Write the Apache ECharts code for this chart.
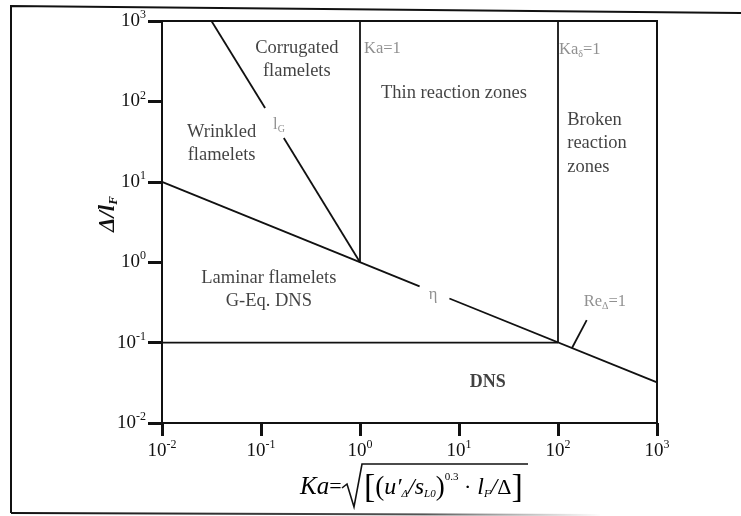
<!DOCTYPE html>
<html>
<head>
<meta charset="utf-8">
<title>Combustion regime diagram</title>
<script src="https://cdn.jsdelivr.net/npm/echarts@6/dist/echarts.min.js"></script>
<style>
  html, body { margin: 0; padding: 0; background: #fff; }
  #chart { width: 741px; height: 516px; }
</style>
</head>
<body>
<div id="chart"></div>
<script>
// Axis range (log scale, both axes span 10^-2 .. 10^3)
const kaRange = [0.01, 1000];
const ratioRange = [0.01, 1000];

// Kolmogorov boundary (eta), split to leave room for its label
const etaUpper = [[0.01, 10], [4, 0.5]];
const etaLower = [[8, 0.354], [1000, 0.032]];

// Gibson length boundary (l_G), split around its label
const lgUpper = [[0.0316, 1000], [0.11, 83]];
const lgLower = [[0.17, 35], [1, 1]];

// Vertical boundaries Ka = 1 and Ka_delta = 1
const kaOne = [[1, 1], [1, 1000]];
const kaDeltaOne = [[100, 0.1], [100, 1000]];

// Lower DNS boundary
const dnsLine = [[0.01, 0.1], [100, 0.1]];

// Leader from the Re_Delta = 1 label to the eta line
const reLeader = [[195, 0.19], [138, 0.085]];

// Region names and boundary tags: [Ka, Delta/l_F, text]
const regionNames = [
  [0.23, 330, 'Corrugated\nflamelets'],
  [8.9, 126, 'Thin reaction zones'],
  [0.040, 30, 'Wrinkled\nflamelets'],
  [0.12, 0.46, 'Laminar flamelets\nG-Eq. DNS']
];
const brokenZone = [[124, 30, 'Broken\nreaction\nzones']];
const dnsName = [[19.5, 0.032, 'DNS']];
const boundaryTags = [
  [1, 458, '{t|Ka=1}', 'right', 4],
  [100, 436, '{t|Ka}{ts|δ}{t|=1}', 'right', 1],
  [0.152, 51, '{t|l}{ts|G}', 'inside', 0],
  [5.46, 0.39, '{t|η}', 'inside', 0],
  [298, 0.32, '{t|Re}{ts|Δ}{t|=1}', 'inside', 0]
];

const serif = '"Liberation Serif", "Times New Roman", serif';
const ink = '#111111';
const tagGrey = '#747474';

function powLabel(v) {
  const e = Math.round(Math.log10(v));
  return '{b|10}{s|' + e + '}';
}
const powRich = {
  b: { fontFamily: serif, fontSize: 19, color: ink },
  s: { fontFamily: serif, fontSize: 12, color: ink, padding: [0, 0, 12, 0] }
};

function boundary(data) {
  return {
    type: 'line',
    data: data,
    symbol: 'none',
    silent: true,
    lineStyle: { color: ink, width: 1.8 },
    z: 3
  };
}

const chart = echarts.init(document.getElementById('chart'), null, { renderer: 'canvas' });

const option = {
  backgroundColor: '#ffffff',
  animation: false,
  grid: {
    left: 162, right: 84, top: 21, bottom: 93,
    show: true, borderColor: ink, borderWidth: 2,
    containLabel: false, outerBoundsMode: 'none'
  },
  xAxis: {
    type: 'log', logBase: 10, min: kaRange[0], max: kaRange[1], splitNumber: 5,
    axisLine: { show: true, lineStyle: { color: ink, width: 2 } },
    axisTick: { show: true, length: 13, lineStyle: { color: ink, width: 3 } },
    axisLabel: { margin: 16, formatter: powLabel, rich: powRich },
    splitLine: { show: false },
    minorTick: { show: false }
  },
  yAxis: {
    type: 'log', logBase: 10, min: ratioRange[0], max: ratioRange[1], splitNumber: 5,
    axisLine: { show: true, lineStyle: { color: ink, width: 2 } },
    axisTick: { show: true, length: 14, lineStyle: { color: ink, width: 3 } },
    axisLabel: { margin: 16, formatter: powLabel, rich: powRich },
    splitLine: { show: false },
    name: '{a|Δ/}{a|l}{f|F}',
    nameLocation: 'middle',
    nameRotate: 90,
    nameGap: 42,
    nameMoveOverlap: false,
    nameTextStyle: {
      padding: [0, 0, 0, 16],
      rich: {
        a: { fontFamily: serif, fontSize: 23, fontWeight: 'bold', fontStyle: 'italic', color: ink },
        f: { fontFamily: serif, fontSize: 13, fontWeight: 'bold', fontStyle: 'italic', color: ink, padding: [10, 0, 0, 0] }
      }
    }
  },
  series: [
    boundary(etaUpper),
    boundary(etaLower),
    boundary(lgUpper),
    boundary(lgLower),
    boundary(kaOne),
    boundary(kaDeltaOne),
    boundary(dnsLine),
    boundary(reLeader),
    {
      type: 'scatter', symbolSize: 0, silent: true, z: 5,
      data: regionNames.map(d => ({ value: [d[0], d[1]], name: d[2] })),
      label: {
        show: true, position: 'inside', formatter: p => p.name,
        fontFamily: serif, fontSize: 18.5, color: ink, lineHeight: 23, align: 'center'
      }
    },
    {
      type: 'scatter', symbolSize: 0, silent: true, z: 5,
      data: brokenZone.map(d => ({ value: [d[0], d[1]], name: d[2] })),
      label: {
        show: true, position: 'right', distance: 0, formatter: p => p.name,
        fontFamily: serif, fontSize: 18.5, color: ink, lineHeight: 23.5, align: 'left'
      }
    },
    {
      type: 'scatter', symbolSize: 0, silent: true, z: 5,
      data: dnsName.map(d => ({ value: [d[0], d[1]], name: d[2] })),
      label: {
        show: true, position: 'inside', formatter: p => p.name,
        fontFamily: serif, fontSize: 18, fontWeight: 'bold', color: ink
      }
    },
    {
      type: 'scatter', symbolSize: 0, silent: true, z: 5,
      data: boundaryTags.map(d => ({
        value: [d[0], d[1]], name: d[2],
        label: { position: d[3], distance: d[4] }
      })),
      label: {
        show: true, formatter: p => p.name,
        rich: {
          t: { fontFamily: serif, fontSize: 16.5, color: tagGrey },
          ts: { fontFamily: serif, fontSize: 10, color: tagGrey, padding: [9, 0, 0, 0] }
        }
      }
    }
  ],
  graphic: [
    // outer border of the figure
    { type: 'polyline', silent: true, shape: { points: [[741, 13], [11, 6], [11, 513]] },
      style: { stroke: '#111', lineWidth: 2, fill: null } },
    { type: 'line', silent: true, shape: { x1: 11, y1: 513, x2: 600, y2: 515 },
      style: {
        lineWidth: 2,
        stroke: new echarts.graphic.LinearGradient(0, 0, 1, 0, [
          { offset: 0, color: '#111' }, { offset: 0.7, color: '#555' }, { offset: 1, color: 'rgba(120,120,120,0)' }
        ])
      } },
    // x-axis title: Ka = sqrt[(u'_Δ/s_L0)^0.3 · l_F/Δ]
    { type: 'text', silent: true, x: 300, y: 487,
      style: {
        text: '{i|Ka}{n|=}', verticalAlign: 'middle', align: 'left',
        rich: {
          i: { fontFamily: serif, fontSize: 25, fontStyle: 'italic', color: ink },
          n: { fontFamily: serif, fontSize: 22, color: ink }
        }
      } },
    { type: 'polyline', silent: true,
      shape: { points: [[342, 488], [347, 484], [354, 507], [362, 464], [528, 464]] },
      style: { stroke: ink, lineWidth: 1.6, fill: null } },
    { type: 'text', silent: true, x: 364, y: 488,
      style: {
        text: '{br|[}{p|(}{i|u′}{sb|Δ}{i|/}{i|s}{sb|L0}{p|)}{sp|0.3}{n| ·}{i| l}{sb|F}{i|/}{n|Δ}{br|]}',
        verticalAlign: 'middle', align: 'left',
        rich: {
          br: { fontFamily: serif, fontSize: 34, color: ink },
          p: { fontFamily: serif, fontSize: 27, color: ink },
          i: { fontFamily: serif, fontSize: 24, fontStyle: 'italic', color: ink },
          n: { fontFamily: serif, fontSize: 22, color: ink },
          sb: { fontFamily: serif, fontSize: 11, fontStyle: 'italic', color: ink, padding: [12, 0, 0, 0] },
          sp: { fontFamily: serif, fontSize: 11, color: ink, padding: [0, 0, 22, 0] }
        }
      } }
  ]
};

chart.setOption(option);
</script>
</body>
</html>
